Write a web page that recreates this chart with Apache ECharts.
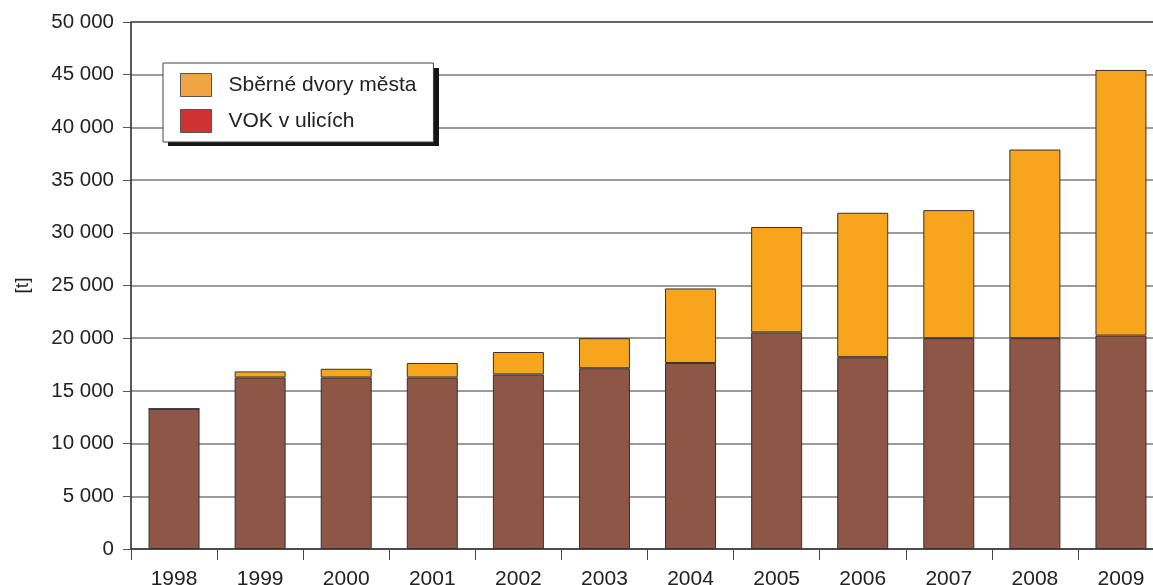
<!DOCTYPE html>
<html>
<head>
<meta charset="utf-8">
<script src="https://cdn.jsdelivr.net/npm/echarts@6/dist/echarts.min.js"></script>
<style>
html,body{margin:0;padding:0;background:#fff;overflow:hidden;width:1153px;height:585px;}
#c{width:1164px;height:585px;}
</style>
</head>
<body>
<div id="c"></div>
<script>
var years = ['1998','1999','2000','2001','2002','2003','2004','2005','2006','2007','2008','2009'];
var vok = [13300, 16270, 16270, 16270, 16560, 17150, 17650, 20550, 18200, 20000, 20000, 20250];
var dvory = [0, 580, 830, 1380, 2130, 2850, 7070, 10000, 13700, 12150, 17900, 25200];
var yTicks = {min: 0, max: 50000, interval: 5000};
var nameDvory = 'Sběrné dvory města';
var nameVok = 'VOK v ulicích';
var yName = '[t]';

var FONT = '"Liberation Sans", Arial, Helvetica, sans-serif';
function fmt(v){ return String(v).replace(/\B(?=(\d{3})+(?!\d))/g, ' '); }

var splitColors = [];
for (var v = yTicks.min; v <= yTicks.max; v += yTicks.interval) {
  splitColors.push(v === yTicks.max ? '#333' : '#7a7a7a');
}

var chart = echarts.init(document.getElementById('c'), null, {renderer: 'canvas'});
chart.setOption({
  backgroundColor: '#ffffff',
  animation: false,
  grid: {left: 131, top: 22, right: 0, bottom: 36, containLabel: false, outerBoundsMode: 'none'},
  graphic: [{
    type: 'rect', z: 1, left: 168, top: 68,
    shape: {width: 271, height: 78},
    style: {fill: '#151515'}
  }],
  legend: {
    z: 20,
    left: 163, top: 63,
    orient: 'vertical',
    itemWidth: 31, itemHeight: 23, itemGap: 12,
    padding: [10, 17, 9, 17],
    backgroundColor: '#ffffff',
    borderColor: '#444', borderWidth: 1,
    selectedMode: false,
    textStyle: {fontFamily: FONT, fontSize: 21, color: '#222', padding: [0, 0, 0, 12]},
    data: [
      {name: nameDvory, icon: 'rect', itemStyle: {color: '#F0A443', borderColor: '#555', borderWidth: 1}},
      {name: nameVok, icon: 'rect', itemStyle: {color: '#CE3232', borderColor: '#555', borderWidth: 1}}
    ]
  },
  xAxis: {
    type: 'category',
    data: years,
    boundaryGap: true,
    axisLine: {lineStyle: {color: '#333', width: 1.5}},
    axisTick: {show: true, length: 11, lineStyle: {color: '#444', width: 1}},
    axisLabel: {fontFamily: FONT, fontSize: 21, color: '#222', margin: 20}
  },
  yAxis: {
    type: 'value',
    min: yTicks.min, max: yTicks.max, interval: yTicks.interval,
    name: yName,
    nameLocation: 'middle',
    nameRotate: 90,
    nameGap: 99,
    nameTextStyle: {fontFamily: FONT, fontSize: 19, color: '#222'},
    axisLine: {show: true, lineStyle: {color: '#222', width: 1.5}},
    axisTick: {show: true, length: 8, lineStyle: {color: '#555', width: 1}},
    axisLabel: {fontFamily: FONT, fontSize: 20.5, color: '#222', margin: 17, formatter: fmt},
    splitLine: {show: true, lineStyle: {color: splitColors, width: 1.5}}
  },
  series: [
    {
      name: nameVok, type: 'bar', stack: 'total', barWidth: 51,
      data: vok,
      itemStyle: {color: '#8E5646', borderColor: '#333', borderWidth: 1}
    },
    {
      name: nameDvory, type: 'bar', stack: 'total', barWidth: 51,
      data: dvory,
      itemStyle: {color: '#F7A51D', borderColor: '#333', borderWidth: 1}
    }
  ]
});
</script>
</body>
</html>
